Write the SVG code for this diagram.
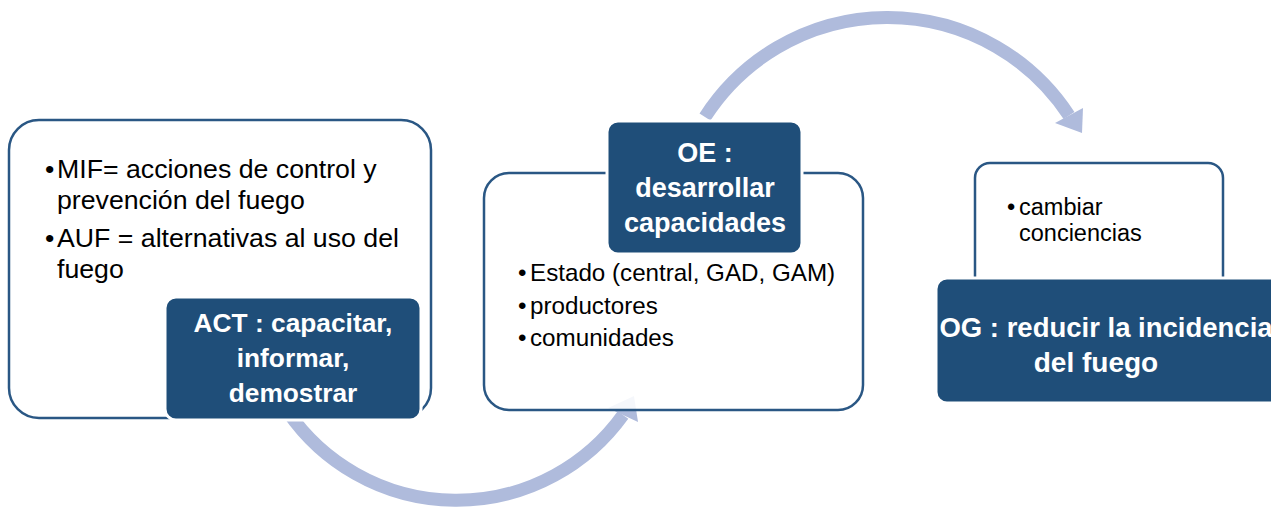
<svg xmlns="http://www.w3.org/2000/svg" width="1271" height="508" viewBox="0 0 1271 508">
  <style>
    .panel { fill: #ffffff; fill-opacity: 0.88; stroke: #2a5784; stroke-width: 2.5; }
    .tag { fill: #1f4e79; stroke: #ffffff; stroke-width: 3; }
    .body { font-family: "Liberation Sans", Arial, sans-serif; fill: #000000; }
    .head { font-family: "Liberation Sans", Arial, sans-serif; font-weight: bold; fill: #ffffff; text-anchor: middle; }
    .shaft { fill: none; stroke: #afbbdc; stroke-width: 13; stroke-linecap: butt; }
    .tip { fill: #afbbdc; }
  </style>

  <g id="connectors">
    <path class="shaft" d="M288,412 A205,205 0 0 0 623,415"/>
    <polygon class="tip" points="634,396 638,422 608,408"/>
    <path class="shaft" d="M705,117 A217,217 0 0 1 1069,115.5"/>
    <polygon class="tip" points="1082,133 1083,108 1055,123"/>
  </g>

  <g id="node-mif">
    <rect class="panel" x="9" y="120" width="422" height="298" rx="30" ry="30"/>
    <g class="body" font-size="26.7">
      <text x="45" y="178">•</text>
      <text x="57" y="178">MIF= acciones de control y</text>
      <text x="57" y="209">prevención del fuego</text>
      <text x="45" y="247">•</text>
      <text x="57" y="247">AUF = alternativas al uso del</text>
      <text x="57" y="278">fuego</text>
    </g>
  </g>

  <g id="node-act">
    <rect class="tag" x="165" y="297" width="256" height="123" rx="11" ry="11"/>
    <g class="head" font-size="26.3">
      <text x="293" y="332">ACT : capacitar,</text>
      <text x="293" y="367">informar,</text>
      <text x="293" y="402">demostrar</text>
    </g>
  </g>

  <g id="node-actores">
    <rect class="panel" x="484" y="173" width="379" height="237" rx="25" ry="25"/>
    <g class="body" font-size="24.2">
      <text x="518" y="281">•</text>
      <text x="530" y="281">Estado (central, GAD, GAM)</text>
      <text x="518" y="314">•</text>
      <text x="530" y="314">productores</text>
      <text x="518" y="346">•</text>
      <text x="530" y="346">comunidades</text>
    </g>
  </g>

  <g id="node-oe">
    <rect class="tag" x="607" y="121" width="195" height="133" rx="11" ry="11"/>
    <g class="head" font-size="27">
      <text x="705" y="162">OE :</text>
      <text x="705" y="197">desarrollar</text>
      <text x="705" y="232">capacidades</text>
    </g>
  </g>

  <g id="node-conciencias">
    <rect class="panel" x="975" y="163" width="248" height="170" rx="15" ry="15"/>
    <g class="body" font-size="23.5">
      <text x="1007" y="215">•</text>
      <text x="1019" y="215">cambiar</text>
      <text x="1019" y="241">conciencias</text>
    </g>
  </g>

  <g id="node-og">
    <rect class="tag" x="936" y="278" width="370" height="125" rx="11" ry="11"/>
    <g class="head">
      <text x="1106" y="337" font-size="27.5">OG : reducir la incidencia</text>
      <text x="1096" y="372" font-size="28">del fuego</text>
    </g>
  </g>
</svg>
